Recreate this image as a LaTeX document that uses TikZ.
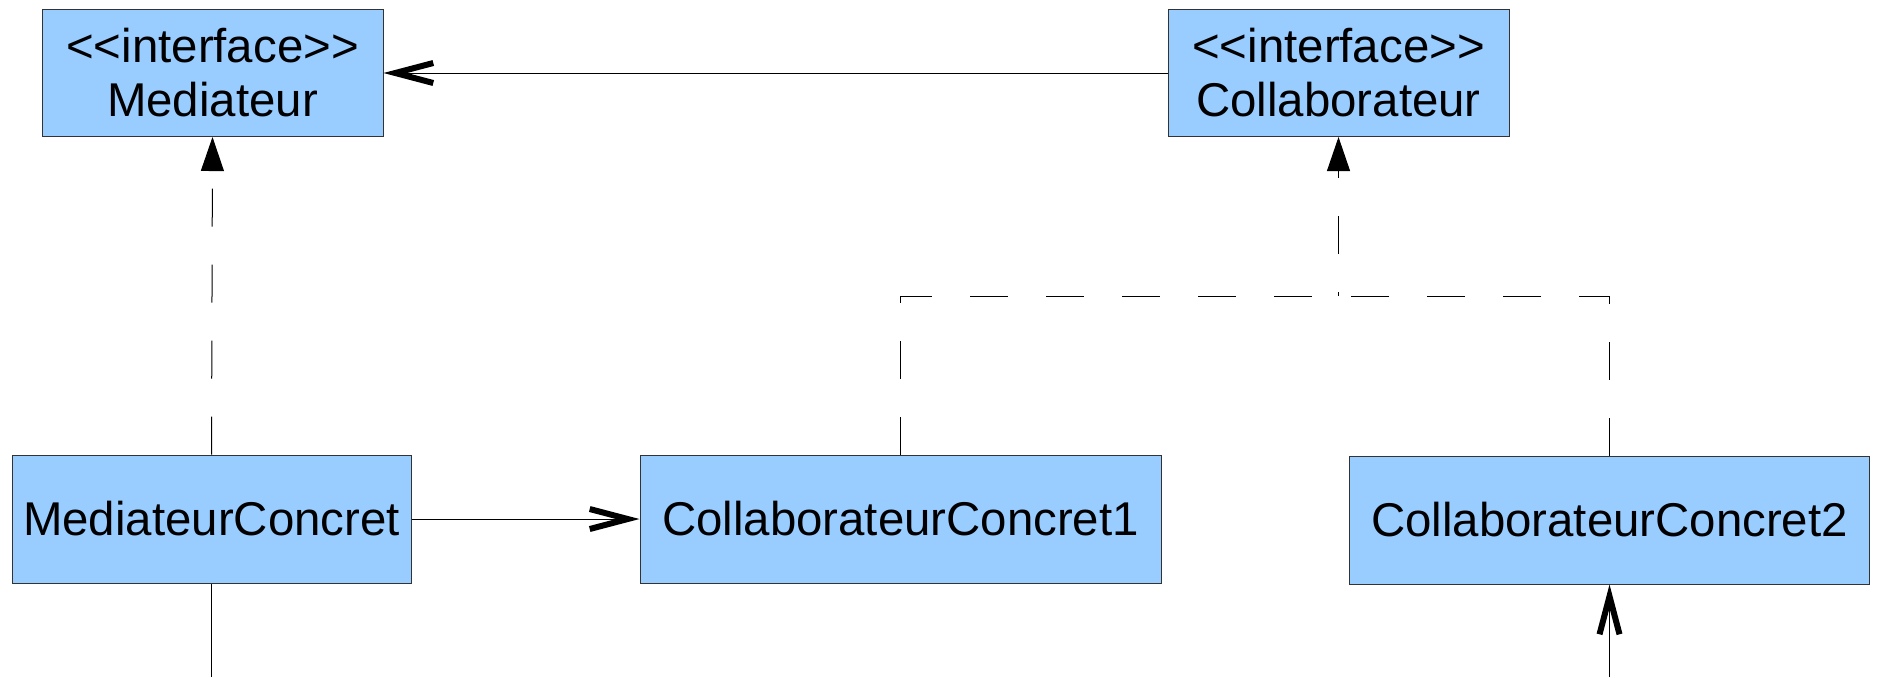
\documentclass[tikz,border=0pt]{standalone}
\usepackage{fontspec}
\setmainfont{Liberation Sans}
\usetikzlibrary{arrows.meta}
\definecolor{umlbleu}{HTML}{99CCFF}
\newcommand\stereo[1]{<\kern0pt<#1>\kern0pt>}

\begin{document}
\begin{tikzpicture}[x=0.5pt,y=-0.5pt,
  classe/.style={draw=black!80,line width=0.5pt,fill=umlbleu,inner sep=0pt,align=center,
    font=\fontsize{23.7}{27}\selectfont},
  assoc/.style={line width=0.5pt,-{Straight Barb[length=19pt,width=10pt,line width=3pt]}},
  realise/.style={line width=0.5pt,dash pattern=on 19pt off 19pt,-{Triangle[length=17pt,width=11.5pt]}},
  pointille/.style={line width=0.5pt,dash pattern=on 19pt off 19pt}]
\useasboundingbox (0,0) rectangle (1878,677);
% interfaces
\node[classe,minimum width=170.5pt,minimum height=63.5pt] (med) at (212.5,73) {\stereo{interface}\\Mediateur};
\node[classe,minimum width=170.5pt,minimum height=63.5pt] (col) at (1338.5,73) {\stereo{interface}\\Collaborateur};
% classes concretes
\node[classe,minimum width=199.5pt,minimum height=64pt] (medc) at (211.5,519) {MediateurConcret};
\node[classe,minimum width=260.5pt,minimum height=64pt] (colc1) at (900.5,519) {CollaborateurConcret1};
\node[classe,minimum width=260pt,minimum height=64pt] (colc2) at (1609.5,520) {CollaborateurConcret2};
\coordinate (jonction) at (1338.5,296);
\coordinate (medbas) at (211.5,677);
\coordinate (colbas) at (1609.5,677);
% liens
\draw[assoc] (col.west) -- (med.east);
\draw[assoc] (medc.east) -- (colc1.west);
\draw[realise] (medc.north) -- (med.south);
\draw[pointille] (colc1.north) |- (jonction);
\draw[pointille] (colc2.north) |- (jonction);
\draw[realise,dash phase=17pt] (jonction) -- (col.south);
\draw[line width=0.5pt] (medc.south) -- (medbas);
\draw[assoc] (colbas) -- (colc2.south);
\end{tikzpicture}
\end{document}
